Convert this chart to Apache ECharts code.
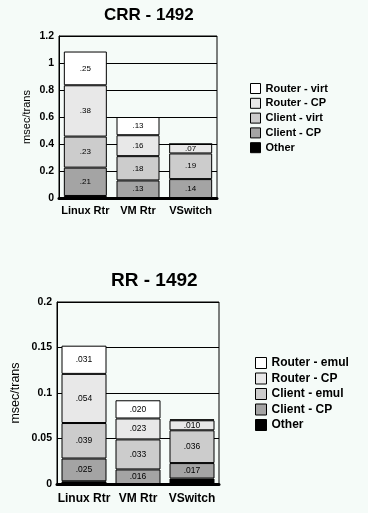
<!DOCTYPE html>
<html><head><meta charset="utf-8">
<script src="https://cdn.jsdelivr.net/npm/echarts@6/dist/echarts.min.js"></script>
<style>html,body{margin:0;padding:0;background:#f5fbf8}#c{width:368px;height:513px}</style>
</head><body><div id="c"></div>
<script>
const categories = ['Linux Rtr', 'VM Rtr', 'VSwitch'];

// CRR - 1492 (bottom to top)
const crrOther      = [0.015, 0, 0];
const crrClientCP   = [0.21, 0.13, 0.14];
const crrClientVirt = [0.23, 0.18, 0.19];
const crrRouterCP   = [0.38, 0.155, 0.07];
const crrRouterVirt = [0.25, 0.135, 0];
const crrClientCPLbl   = ['.21', '.13', '.14'];
const crrClientVirtLbl = ['.23', '.18', '.19'];
const crrRouterCPLbl   = ['.38', '.16', '.07'];
const crrRouterVirtLbl = ['.25', '.13', ''];

// RR - 1492 (bottom to top)
const rrOther      = [0.003, 0, 0.006];
const rrClientCP   = [0.025, 0.016, 0.017];
const rrClientEmul = [0.039, 0.033, 0.036];
const rrRouterCP   = [0.054, 0.023, 0.011];
const rrRouterEmul = [0.031, 0.020, 0.001];
const rrClientCPLbl   = ['.025', '.016', '.017'];
const rrClientEmulLbl = ['.039', '.033', '.036'];
const rrRouterCPLbl   = ['.054', '.023', '.010'];
const rrRouterEmulLbl = ['.031', '.020', ''];

const yTicks1 = { min: 0, max: 1.2, interval: 0.2 };
const yTicks2 = { min: 0, max: 0.2, interval: 0.05 };

const colors = { rv: '#ffffff', rcp: '#e8e8e8', cv: '#cccccc', ccp: '#a4a4a4', oth: '#000000' };
const FONT = 'Liberation Sans, Arial, sans-serif';

function mk(name, data, lbls, color, idx) {
  return {
    name: name, type: 'bar', stack: 's' + idx, xAxisIndex: idx, yAxisIndex: idx,
    data: data, barWidth: idx === 0 ? 43 : 45,
    itemStyle: { color: color, borderColor: '#000', borderWidth: 1 },
    label: {
      show: !!lbls, position: 'inside', color: '#000', fontSize: idx === 0 ? 8 : 8.5, fontFamily: FONT,
      formatter: p => lbls ? lbls[p.dataIndex] : ''
    },
    emphasis: { disabled: true }, animation: false
  };
}

function yAxis(idx, ticks, nameGap, nameSize) {
  return Object.assign({
    gridIndex: idx, type: 'value', name: 'msec/trans', nameLocation: 'middle', nameRotate: 90, nameGap: nameGap,
    nameTextStyle: { fontSize: nameSize, fontFamily: FONT, color: '#000' },
    axisLine: { show: true, lineStyle: { color: '#000', width: 1 } },
    axisTick: { show: false },
    axisLabel: { color: '#000', fontWeight: 'bold', fontSize: 10.5, fontFamily: FONT, margin: 5 },
    splitLine: { show: true, lineStyle: { color: '#000', width: 1 } }
  }, ticks);
}
function xAxis(idx, size, margin) {
  return {
    gridIndex: idx, type: 'category', data: categories,
    axisLine: { show: true, lineStyle: { color: '#000', width: 3 } },
    axisTick: { show: false },
    axisLabel: { color: '#000', fontWeight: 'bold', fontSize: size, fontFamily: FONT, margin: margin, interval: 0 }
  };
}
function legend(left, top, size, icon, gap, names) {
  return {
    orient: 'vertical', left: left, top: top, padding: 0, icon: 'rect',
    itemWidth: icon, itemHeight: icon, itemGap: gap,
    textStyle: { color: '#000', fontWeight: 'bold', fontSize: size, fontFamily: FONT },
    itemStyle: { borderColor: '#000', borderWidth: 1 },
    selectedMode: false, data: names
  };
}

const chart = echarts.init(document.getElementById('c'), null, { renderer: 'canvas' });
chart.setOption({
  backgroundColor: '#f5fbf8',
  animation: false,
  title: [
    { text: 'CRR - 1492', left: 99, top: 2, textStyle: { fontSize: 17, fontWeight: 'bold', fontFamily: FONT, color: '#000' } },
    { text: 'RR - 1492', left: 106, top: 266, textStyle: { fontSize: 19, fontWeight: 'bold', fontFamily: FONT, color: '#000' } }
  ],
  grid: [
    { left: 59, right: 151, top: 36, bottom: 315, show: true, borderColor: '#000', borderWidth: 1, backgroundColor: 'transparent' },
    { left: 57, right: 149, top: 302, bottom: 29, show: true, borderColor: '#000', borderWidth: 1, backgroundColor: 'transparent' }
  ],
  xAxis: [ xAxis(0, 11, 7), xAxis(1, 12, 9) ],
  yAxis: [ yAxis(0, yTicks1, 27, 11), yAxis(1, yTicks2, 35, 12.5) ],
  legend: [
    legend(250, 83, 11, 10, 3.8, ['Router - virt', 'Router - CP', 'Client - virt', 'Client - CP', 'Other']),
    legend(255, 357, 12, 11, 3.5, ['Router - emul', 'Router - CP ', 'Client - emul', 'Client - CP ', 'Other '])
  ],
  series: [
    mk('Other', crrOther, null, colors.oth, 0),
    mk('Client - CP', crrClientCP, crrClientCPLbl, colors.ccp, 0),
    mk('Client - virt', crrClientVirt, crrClientVirtLbl, colors.cv, 0),
    mk('Router - CP', crrRouterCP, crrRouterCPLbl, colors.rcp, 0),
    mk('Router - virt', crrRouterVirt, crrRouterVirtLbl, colors.rv, 0),
    mk('Other ', rrOther, null, colors.oth, 1),
    mk('Client - CP ', rrClientCP, rrClientCPLbl, colors.ccp, 1),
    mk('Client - emul', rrClientEmul, rrClientEmulLbl, colors.cv, 1),
    mk('Router - CP ', rrRouterCP, rrRouterCPLbl, colors.rcp, 1),
    mk('Router - emul', rrRouterEmul, rrRouterEmulLbl, colors.rv, 1)
  ]
});
</script></body></html>
